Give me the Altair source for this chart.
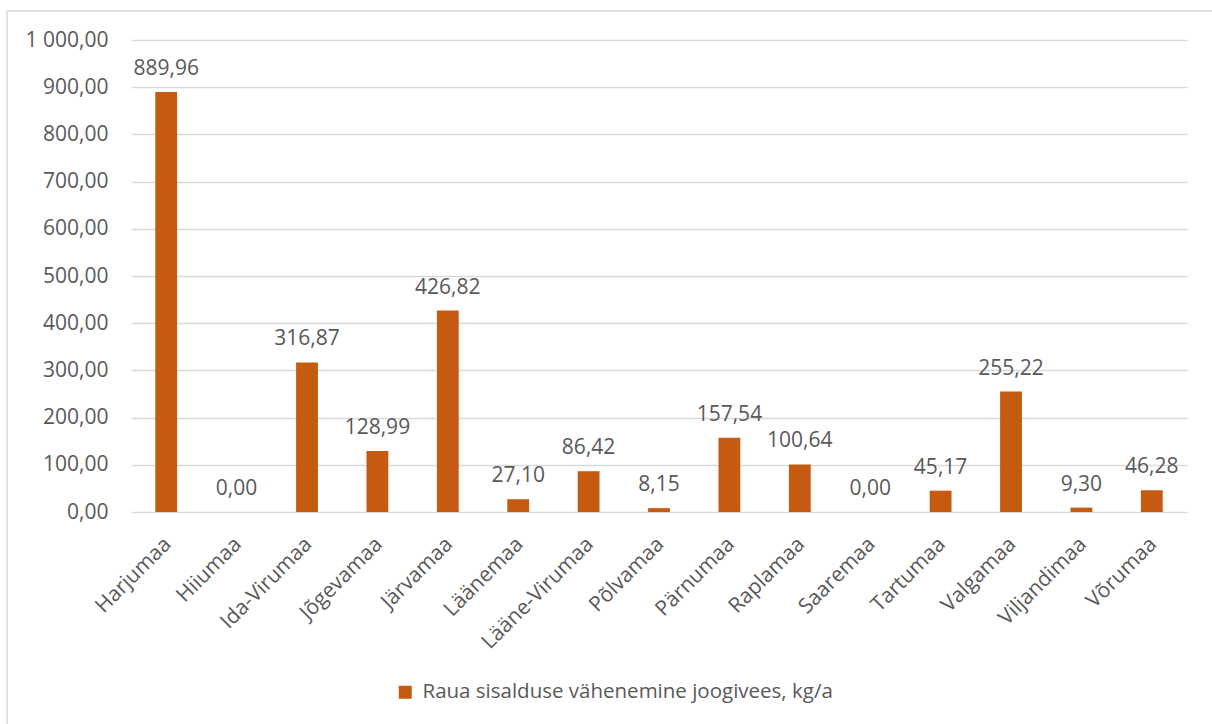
import altair as alt
import pandas as pd

counties = [
    "Harjumaa", "Hiiumaa", "Ida-Virumaa", "Jõgevamaa", "Järvamaa",
    "Läänemaa", "Lääne-Virumaa", "Põlvamaa", "Pärnumaa", "Raplamaa",
    "Saaremaa", "Tartumaa", "Valgamaa", "Viljandimaa", "Võrumaa",
]
values = [
    889.96, 0.00, 316.87, 128.99, 426.82,
    27.10, 86.42, 8.15, 157.54, 100.64,
    0.00, 45.17, 255.22, 9.30, 46.28,
]
series_name = "Raua sisalduse vähenemine joogivees, kg/a"
y_ticks = list(range(0, 1001, 100))

FONT = "Open Sans"
TEXT = "#595959"
GRID = "#D9D9D9"
BAR = "#C55A11"

df = pd.DataFrame({"county": counties, "value": values, "series": series_name})

base = alt.Chart(df)

bars = base.mark_bar(color=BAR).encode(
    x=alt.X(
        "county:N",
        sort=counties,
        title=None,
        scale=alt.Scale(paddingInner=0.69, paddingOuter=0.345),
        axis=alt.Axis(
            labelAngle=-45,
            labelAlign="right",
            labelBaseline="top",
            labelFont=FONT,
            labelFontSize=21,
            labelColor=TEXT,
            labelPadding=21,
            labelOffset=-6,
            domain=False,
            ticks=False,
            grid=False,
        ),
    ),
    y=alt.Y(
        "value:Q",
        title=None,
        scale=alt.Scale(domain=[0, 1000], nice=False),
        axis=alt.Axis(
            values=y_ticks,
            labelExpr="replace(replace(format(datum.value, ',.2f'), ',', ' '), '.', ',')",
            labelFont=FONT,
            labelFontSize=21,
            labelColor=TEXT,
            labelPadding=23,
            domain=False,
            ticks=False,
            gridColor=GRID,
            gridWidth=1.3,
        ),
    ),
    color=alt.Color(
        "series:N",
        scale=alt.Scale(domain=[series_name], range=[BAR]),
        legend=alt.Legend(
            title=None,
            orient="none",
            legendX=264,
            legendY=642,
            symbolType="square",
            symbolSize=169,
            symbolStrokeWidth=0,
            labelFont=FONT,
            labelFontSize=20.5,
            labelColor=TEXT,
            labelOffset=7,
            labelLimit=0,
        ),
    ),
)

labels = base.transform_calculate(
    label="replace(format(datum.value, '.2f'), '.', ',')"
).mark_text(
    font=FONT, fontSize=21, color=TEXT, baseline="alphabetic", dy=-17
).encode(
    x=alt.X("county:N", sort=counties),
    y="value:Q",
    text="label:N",
)

frame = alt.Chart(pd.DataFrame({"k": [0]})).mark_rect(
    fill=None, stroke=GRID, strokeWidth=1.5
).encode(
    x=alt.value(-124), x2=alt.value(1300), y=alt.value(-29), y2=alt.value(800)
)

chart = alt.layer(frame, bars, labels).properties(
    width=1056,
    height=472,
    autosize=alt.AutoSizeParams(type="none"),
    padding={"left": 131, "top": 40, "right": 25, "bottom": 212},
    background="white",
).configure_view(stroke=None)

chart.save("out.html", embed_options={"renderer": "svg", "actions": False})
